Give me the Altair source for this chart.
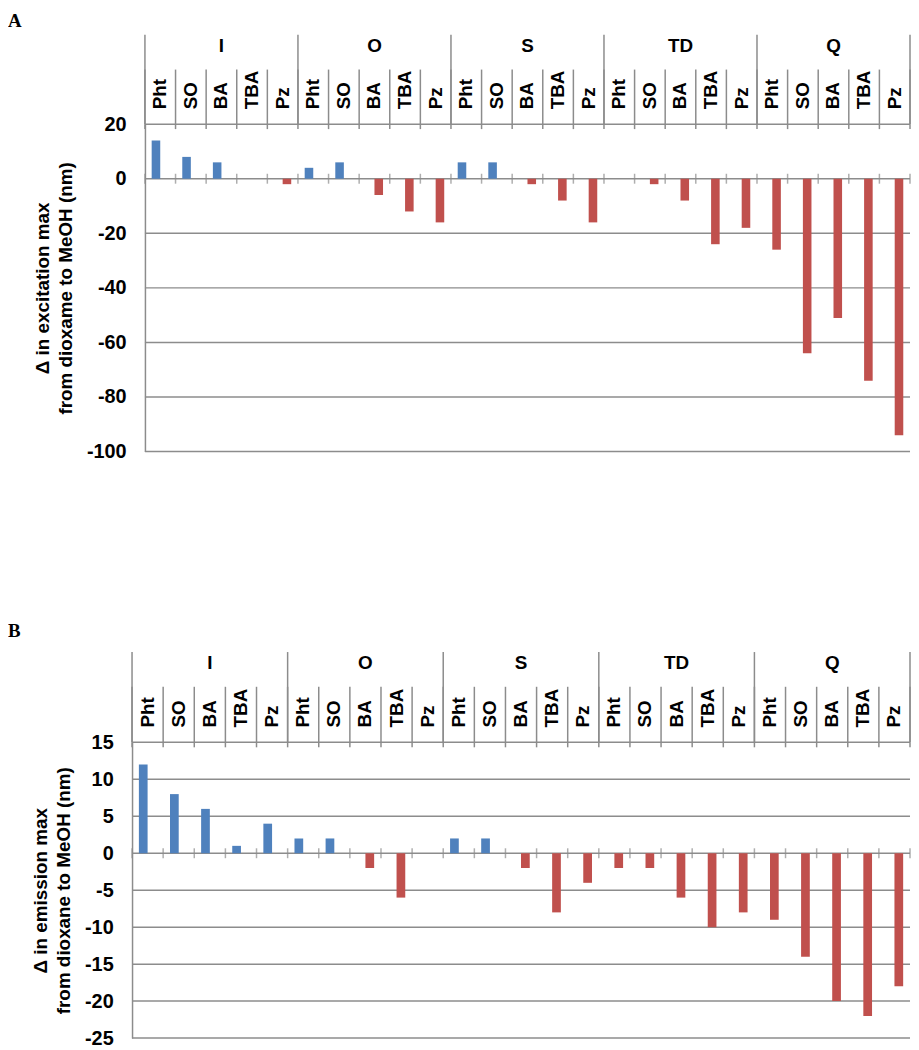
import altair as alt
import pandas as pd

groups = ["I", "O", "S", "TD", "Q"]
subs = ["Pht", "SO", "BA", "TBA", "Pz"]
excitation = [14, 8, 6, 0, -2,
              4, 6, -6, -12, -16,
              6, 6, -2, -8, -16,
              0, -2, -8, -24, -18,
              -26, -64, -51, -74, -94]
emission = [12, 8, 6, 1, 4,
            2, 2, -2, -6, 0,
            2, 2, -2, -8, -4,
            -2, -2, -6, -10, -8,
            -9, -14, -20, -22, -18]
exc_ticks = [20, 0, -20, -40, -60, -80, -100]
emi_ticks = [15, 10, 5, 0, -5, -10, -15, -20, -25]
exc_title = ["\u0394 in excitation max", "from dioxame to MeOH (nm)"]
emi_title = ["\u0394 in emission max", "from dioxane to MeOH (nm)"]

GRID = "#8c8c8c"
BLUE = "#4F81BD"
RED = "#C0504D"
FONT = "Liberation Sans"
SERIF = "Liberation Serif"
W = 784


def panel(letter, values, ticks, title_lines, left_shift, header_h, bar_h, letter_y):
    n = len(groups) * len(subs)
    col_w = (W - left_shift) / n
    xs = alt.Scale(domain=[-left_shift / col_w, n], nice=False, zero=False)
    ys = alt.Scale(domain=[min(ticks), max(ticks)], nice=False, zero=False)

    cats = pd.DataFrame({
        "idx": list(range(n)),
        "group": [g for g in groups for _ in subs],
        "sub": [s for _ in groups for s in subs],
        "value": values,
    })
    cats["center"] = cats["idx"] + 0.5
    bounds = pd.DataFrame({"b": list(range(n + 1))})
    bounds["zero"] = 0
    gb = pd.DataFrame({"b": [i * len(subs) for i in range(len(groups) + 1)]})
    gl = pd.DataFrame({"group": groups,
                       "c": [i * len(subs) + len(subs) / 2 for i in range(len(groups))]})
    tk = pd.DataFrame({"t": ticks})
    tk["xa"] = 0
    tk["xb"] = n

    # ---- header ----
    sub_lines = alt.Chart(bounds).mark_rule(color=GRID, strokeWidth=1.5).encode(
        x=alt.X("b:Q", scale=xs, axis=None),
        y=alt.value(35), y2=alt.value(header_h))
    grp_lines = alt.Chart(gb).mark_rule(color=GRID, strokeWidth=1.5).encode(
        x=alt.X("b:Q", scale=xs, axis=None),
        y=alt.value(0), y2=alt.value(header_h))
    grp_text = alt.Chart(gl).mark_text(font=FONT, fontSize=19, fontWeight="bold",
                                       color="black", baseline="middle").encode(
        x=alt.X("c:Q", scale=xs, axis=None), y=alt.value(11), text="group:N")
    sub_text = alt.Chart(cats).mark_text(font=FONT, fontSize=19, fontWeight="bold",
                                         color="black", angle=270, align="left",
                                         baseline="middle").encode(
        x=alt.X("center:Q", scale=xs, axis=None), y=alt.value(header_h - 15),
        text="sub:N")
    letter_text = alt.Chart(pd.DataFrame({"t": [letter]})).mark_text(
        font=SERIF, fontSize=19, fontWeight="bold", color="black",
        align="left", baseline="top").encode(
        x=alt.value(-125), y=alt.value(letter_y), text="t:N")
    header = alt.layer(grp_lines, sub_lines, grp_text, sub_text, letter_text).properties(
        width=W, height=header_h)

    # ---- bars ----
    grid = alt.Chart(tk).mark_rule(color=GRID, strokeWidth=1.5).encode(
        y=alt.Y("t:Q", scale=ys, axis=alt.Axis(
            values=ticks, tickCount=len(ticks) + 5, grid=False, ticks=False,
            domainColor=GRID, domainWidth=1.5,
            labelFont=FONT, labelFontSize=20, labelFontWeight="bold", labelColor="black",
            labelPadding=19, labelOverlap=False,
            labelExpr="replace(datum.label, '\u2212', '-')",
            title=title_lines, titleFont=FONT, titleFontSize=19,
            titleFontWeight="bold", titleColor="black", titlePadding=11,
            titleLineHeight=23, offset=-left_shift)),
        x=alt.X("xa:Q", scale=xs, axis=None), x2="xb:Q")
    bars = alt.Chart(cats).transform_calculate(
        xa="datum.idx + (datum.value > 0 ? 0.22 : 0.5)",
        xb="datum.idx + (datum.value > 0 ? 0.5 : 0.78)",
        sign="datum.value > 0 ? 'pos' : 'neg'",
        base="0",
    ).mark_bar().encode(
        x=alt.X("xa:Q", scale=xs, axis=None), x2="xb:Q",
        y=alt.Y("value:Q", scale=ys), y2="base:Q",
        color=alt.Color("sign:N", scale=alt.Scale(domain=["pos", "neg"], range=[BLUE, RED]),
                        legend=None))
    zero_ticks = alt.Chart(bounds).mark_tick(orient="vertical", size=10, thickness=1.5,
                                             color=GRID).encode(
        x=alt.X("b:Q", scale=xs, axis=None), y=alt.Y("zero:Q", scale=ys))
    top_ticks = alt.Chart(bounds).mark_rule(color=GRID, strokeWidth=1.5).encode(
        x=alt.X("b:Q", scale=xs, axis=None), y=alt.value(0), y2=alt.value(5))
    barchart = alt.layer(grid, zero_ticks, top_ticks, bars).properties(width=W, height=bar_h)

    return alt.vconcat(header, barchart, spacing=0, bounds="flush")


A = panel("A", excitation, exc_ticks, exc_title, 13, 90, 330, -23)
B = panel("B", emission, emi_ticks, emi_title, 0, 91, 298, -30)

chart = alt.vconcat(A, B, spacing=162).properties(padding=0).configure_view(stroke=None)

chart.save("out.html", embed_options={"renderer": "svg", "actions": False})
